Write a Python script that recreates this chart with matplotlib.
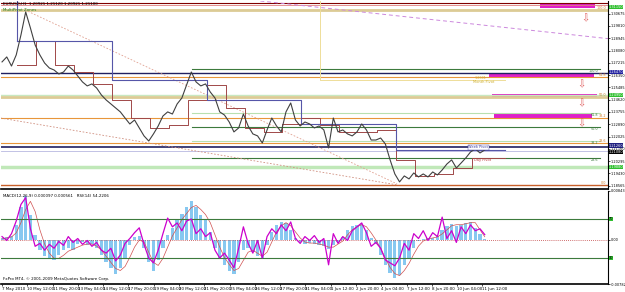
import numpy as np
import matplotlib
matplotlib.use('Agg')
import matplotlib.pyplot as plt

# EURUSD H1, one reading about every 6 bars (7 May - 11 Jun 2010)
close = [1.2728, 1.2763, 1.2699, 1.2777, 1.2918, 1.3080, 1.2967, 1.2847, 1.2777, 1.2720,
         1.2685, 1.2671, 1.2643, 1.2657, 1.2699, 1.2671, 1.2629, 1.2587, 1.2559, 1.2573,
         1.2544, 1.2495, 1.2460, 1.2432, 1.2404, 1.2376, 1.2333, 1.2291, 1.2319, 1.2263,
         1.2207, 1.2171, 1.2221, 1.2277, 1.2347, 1.2376, 1.2361, 1.2432, 1.2474, 1.2566,
         1.2657, 1.2587, 1.2559, 1.2573, 1.2516, 1.2474, 1.2376, 1.2354, 1.2305, 1.2235,
         1.2263, 1.2361, 1.2277, 1.2221, 1.2207, 1.2157, 1.2249, 1.2333, 1.2277, 1.2235,
         1.2376, 1.2439, 1.2319, 1.2277, 1.2305, 1.2291, 1.2263, 1.2277, 1.2249, 1.2122,
         1.2333, 1.2235, 1.2249, 1.2221, 1.2207, 1.2235, 1.2291, 1.2249, 1.2178, 1.2178,
         1.2192, 1.2150, 1.2038, 1.1939, 1.1883, 1.1925, 1.1904, 1.1946, 1.1918, 1.1939,
         1.1918, 1.1953, 1.1932, 1.1967, 1.2009, 1.2038, 1.1981, 1.2016, 1.2052, 1.2094,
         1.2115, 1.2087, 1.2108]

macd_hist = [0.00035, 0.00053, 0.0007, 0.00263, 0.0056, 0.00753, 0.00438, 0.00088, -0.00175, -0.0028,
             -0.00333, -0.0035, -0.00263, -0.00175, -0.0014, -0.00175, -0.0007, -0.00035, -0.00088, -0.0007,
             -0.0014, -0.00263, -0.00385, -0.0049, -0.00578, -0.0049, -0.00315, -0.00088, 0.00053, 0.0007,
             -0.0014, -0.00385, -0.00525, -0.0035, -0.0014, 0.00088, 0.0021, 0.0035, 0.00455, 0.0056,
             0.00665, 0.0056, 0.00438, 0.0035, 0.0014, -0.0014, -0.00315, -0.00438, -0.00525, -0.00578,
             -0.00385, -0.00175, -0.0014, -0.0021, -0.0028, -0.00315, -0.00088, 0.0014, 0.00263, 0.00315,
             0.00298, 0.00175, 0.00035, -0.00035, -0.0007, -0.00053, -0.0007, -0.00088, -0.00105, -0.00158,
             -0.00088, -0.00035, 0.00053, 0.00175, 0.00245, 0.00263, 0.0028, 0.00175, 0.00035, -0.0007,
             -0.00263, -0.00438, -0.0056, -0.00648, -0.00595, -0.00438, -0.00315, -0.0014, -0.00018, 0.00018,
             0.00035, 0.00035, 0.0007, 0.00175, 0.00245, 0.0028, 0.00245, 0.00263, 0.00298, 0.00315,
             0.0021, 0.0010, 0.0001]

macd_signal = [0.00018, 0.00035, 0.00053, 0.00123, 0.00298, 0.00525, 0.00665, 0.0049, 0.00175, -0.0007,
               -0.00228, -0.00315, -0.00315, -0.00263, -0.00193, -0.00158, -0.00123, -0.00088, -0.0007, -0.0007,
               -0.00105, -0.00175, -0.0028, -0.00385, -0.0049, -0.00525, -0.00455, -0.00298, -0.00123, 0.0,
               -0.00035, -0.0021, -0.00385, -0.00438, -0.00315, -0.00123, 0.0007, 0.0021, 0.0035, 0.00455,
               0.0056, 0.00595, 0.00525, 0.00438, 0.00298, 0.00088, -0.00123, -0.00298, -0.0042, -0.00525,
               -0.0049, -0.0035, -0.0021, -0.00175, -0.00228, -0.0028, -0.0021, -0.00035, 0.0014, 0.00245,
               0.00298, 0.00245, 0.0014, 0.00035, -0.00035, -0.00053, -0.00053, -0.0007, -0.00088, -0.00123,
               -0.00123, -0.0007, -0.00018, 0.00088, 0.00175, 0.00228, 0.00263, 0.00228, 0.00123, 0.0,
               -0.0014, -0.00315, -0.00473, -0.00578, -0.00613, -0.00525, -0.00403, -0.00245, -0.00105, -0.00018,
               0.00018, 0.00035, 0.00053, 0.00105, 0.00175, 0.00245, 0.00263, 0.00263, 0.0028, 0.00298,
               0.00298, 0.00175, 0.00056]

rsi = [52, 48, 55, 68, 85, 92, 60, 42, 45, 38,
       44, 40, 47, 43, 52, 46, 50, 44, 48, 42,
       46, 38, 35, 40, 27, 33, 45, 50, 56, 61,
       44, 30, 25, 38, 55, 71, 62, 66, 58, 68,
       70, 55, 60, 52, 56, 38, 30, 35, 28, 20,
       40, 62, 45, 35, 48, 30, 52, 60, 55, 64,
       58, 67, 50, 45, 52, 48, 53, 46, 50, 23,
       55, 45, 52, 48, 58, 62, 66, 56, 42, 46,
       40, 28, 25, 22, 30, 45, 38, 55, 50, 58,
       48, 56, 52, 72, 50, 58, 46, 62, 55, 64,
       58, 60, 54]

time_labels = ['7 May 2010', '10 May 12:00', '11 May 20:00', '13 May 04:00', '14 May 12:00',
               '17 May 20:00', '19 May 04:00', '20 May 12:00', '21 May 20:00', '25 May 04:00',
               '26 May 12:00', '27 May 20:00', '31 May 04:00', '1 Jun 12:00', '2 Jun 20:00',
               '4 Jun 04:00', '7 Jun 12:00', '8 Jun 20:00', '10 Jun 04:00', '11 Jun 12:00']
price_ticks = [1.30675, 1.29810, 1.28945, 1.28080, 1.27215, 1.26350, 1.25485, 1.24620,
               1.23755, 1.22890, 1.22025, 1.21160, 1.20295, 1.19430, 1.18565]

# pivots: daily from 10 May, weekly from 10 May, monthly from 1 Jun
day_pivot = [1.2706, 1.2875, 1.2706, 1.2657, 1.2573, 1.2460, 1.2333, 1.2263, 1.2284, 1.2460,
             1.2566, 1.2404, 1.2263, 1.2235, 1.2291, 1.2333, 1.2284, 1.2235, 1.2235, 1.2249,
             1.2038, 1.1925, 1.1939, 1.1981, 1.2052]
week_pivot = [1.2875, 1.2601, 1.2463, 1.2291, 1.2105]
month_pivot = 1.2601

# fibo sets
fib_pct = ['0.0', '23.6', '38.2', '50.0', '61.8', '100.0']
fib_green = [1.1862, 1.2052, 1.2171, 1.2270, 1.2369, 1.2678]
fib_orange = [1.1862, 1.2157, 1.2333, 1.2480, 1.2622, 1.3094]

# sell zones
zone_lo = [1.3108, 1.2622, 1.2474, 1.2333]
zone_hi = [1.3136, 1.2650, 1.2499, 1.2369]
zone_x0 = [681, 616, 620, 623]
zone_x1 = [751, 749, 753, 747]
arrow_price = [1.3037, 1.2573, 1.2439, 1.2298]

bars = np.linspace(0, 611, len(close))
XL = (-1.3, 767)
fs = 2.9
fs_ax = 2.5

fig = plt.figure(figsize=(6.25, 2.92), dpi=100)
ax = fig.add_axes([0.0016, 1 - 189 / 292, 607 / 625, 188 / 292])
ax2 = fig.add_axes([0.0016, 1 - 284 / 292, 607 / 625, 93 / 292])

# lower window RSI on a twin axis (created first so ticks stay on the right)
r = ax2.twinx()

for a in (ax, ax2):
    a.set_xlim(*XL)
    a.spines['top'].set_visible(False)
    a.spines['left'].set_visible(False)
    a.spines['right'].set_linewidth(0.8)
    a.spines['bottom'].set_linewidth(1.2)
    a.yaxis.tick_right()
    a.tick_params(axis='both', labelsize=fs, length=1.2, width=0.5, pad=0.8)
    a.tick_params(axis='y', labelsize=fs_ax, pad=0.6)

ax.set_ylim(1.1833, 1.3157)

# full-width levels
ax.axhline(1.3146, color='#800000', lw=0.8)
ax.axhline(1.3129, color='#e08080', lw=0.6)
ax.axhline(1.2647, color='#202060', lw=1.0)
ax.axhline(1.2126, color='#202060', lw=1.2)
ax.axhline(1.2101, color='#b8b8e0', lw=0.6)
ax.axhline(1.1988, color='#c0e8b8', lw=2.5)
ax.axhline(1.2495, color='#c8e8c0', lw=1.0)
for i, p in enumerate(fib_orange):
    if fib_pct[i] in ('50.0', '100.0'):
        ax.axhline(p, color='#dccb95', lw=2.0)
    elif fib_pct[i] == '0.0':
        ax.axhline(p, color='#c8602a', lw=1.0)
    else:
        ax.axhline(p, color='#e8963a', lw=0.8)
    ax.text(765, p, fib_pct[i], fontsize=2.4, color='#d08030', ha='right', va='bottom')

# fibo from 21 May high
for i, p in enumerate(fib_green):
    if fib_pct[i] == '0.0':
        continue
    c = '#b8e0b0' if fib_pct[i] in ('38.2', '61.8') else '#3c7a3c'
    ax.plot([240, 757], [p, p], color=c, lw=0.8)
    ax.text(755, p, fib_pct[i], fontsize=2.4, color='#3c7a3c', ha='right', va='top')

# diagonals
ax.plot([29, 500], [1.3094, 1.1869], color='#e0a090', lw=0.6, ls=(0, (2, 2)))
ax.plot([-2, 500], [1.2333, 1.1862], color='#d09080', lw=0.6, ls=(0, (2, 2)))
ax.plot([327, 767], [1.3157, 1.2892], color='#cc88dd', lw=0.7, ls=(0, (4, 3)))

# pivot steps
day_x = [19 + 24 * k for k in range(len(day_pivot))] + [637]
ax.step(day_x, day_pivot + [day_pivot[-1]], where='post', color='#a04848', lw=0.7)
week_x = [19 + 120 * k for k in range(len(week_pivot))] + [637]
ax.plot([19, 19], [1.3157, week_pivot[0]], color='#5656a8', lw=0.8)
ax.step(week_x, week_pivot + [week_pivot[-1]], where='post', color='#5656a8', lw=0.8)
ax.plot([403, 403, 637], [1.3157, month_pivot, month_pivot], color='#eedd99', lw=0.7)

ax.text(598, month_pivot + 0.0003, '1.2601', fontsize=2.4, color='#d0b030', va='bottom')
ax.text(596, month_pivot - 0.0002, 'Month Pivot', fontsize=2.6, color='#d0b030', va='top')
ax.text(590, week_pivot[-1] + 0.0008, 'Week Pivot', fontsize=2.6, color='#4040a0', va='bottom',
        bbox=dict(fc='white', ec='#4040a0', lw=0.3, pad=0.3))
ax.text(598, day_pivot[-1] - 0.0004, 'Day Pivot', fontsize=2.6, color='#c04040', va='top')

for i in range(len(zone_lo)):
    ax.fill_between([zone_x0[i], zone_x1[i]], zone_lo[i], zone_hi[i], color='#e020c8', lw=0)
for i, p in enumerate(arrow_price):
    ax.text(738 if i == 0 else 733, p, '\u21e9', fontsize=7, color='#e06060', ha='center', va='center')

ax.plot(bars, close, color='#404040', lw=0.8)

ax.set_yticks(price_ticks)
ax.set_yticklabels(['%.5f' % t for t in price_ticks])
ax.set_xticks([])

# price boxes on the axis
for p, fc, dy in [(1.3115, '#30c030', 0), (1.2647, '#2020a0', 1.0),
                  (1.2495, '#30c030', 0), (1.2126, '#202080', 1.3),
                  (1.2108, 'black', -1.3), (1.1988, '#30c030', 0)]:
    ax.annotate('%.5f' % p, xy=(1.0, p), xycoords=('axes fraction', 'data'), xytext=(0.5, dy),
                textcoords='offset points', fontsize=fs_ax, color='white', va='center', ha='left',
                bbox=dict(fc=fc, ec='none', pad=0.1), annotation_clip=False)

ax.text(0.004, 0.995, 'EURUSD,H1  1.20921 1.21120 1.20921 1.21100', transform=ax.transAxes,
        fontsize=fs, va='top')
ax.text(0.004, 0.965, 'MultiPivot Zones', transform=ax.transAxes, fontsize=fs, va='top', color='#208020')

# lower window: MACD
ax2.set_ylim(-0.00757, 0.00843)
ax2.bar(bars, macd_hist, width=4.2, color='#87c8f0', edgecolor='none')
ax2.plot(bars, macd_signal, color='#d05050', lw=0.5)
ax2.axhline(0, color='#c04040', lw=0.6, ls=(0, (1, 1.5)))
ax2.set_yticks([0.00843, 0, -0.00757])
ax2.set_yticklabels(['0.00843', '0.00', '-0.00782'])

# RSI
r.set_xlim(*XL)
r.set_ylim(3.3, 98.8)
r.axis('off')
r.axhline(70, color='#3c7a3c', lw=0.8)
r.axhline(30, color='#3c7a3c', lw=0.8)
r.plot(bars, rsi, color='#cc00cc', lw=0.9)
for lv in (70, 30):
    r.annotate(str(lv), xy=(1.0, lv), xycoords=('axes fraction', 'data'), xytext=(0.5, 0),
               textcoords='offset points', fontsize=fs_ax, color='black', va='center',
               bbox=dict(fc='#30c030', ec='none', pad=0.1), annotation_clip=False)

ax2.text(0.004, 0.97, 'MACD(12,26,9) 0.000097 0.000561   RSI(14) 54.2206', transform=ax2.transAxes,
         fontsize=fs, va='top')
ax2.text(0.004, 0.03, 'FxPro MT4, \u00a9 2001-2009 MetaQuotes Software Corp.', transform=ax2.transAxes,
         fontsize=fs, va='bottom')

ax2.set_xticks([32 * i for i in range(len(time_labels))])
ax2.set_xticklabels(time_labels, ha='left')

fig.savefig('out.png', dpi=100)
